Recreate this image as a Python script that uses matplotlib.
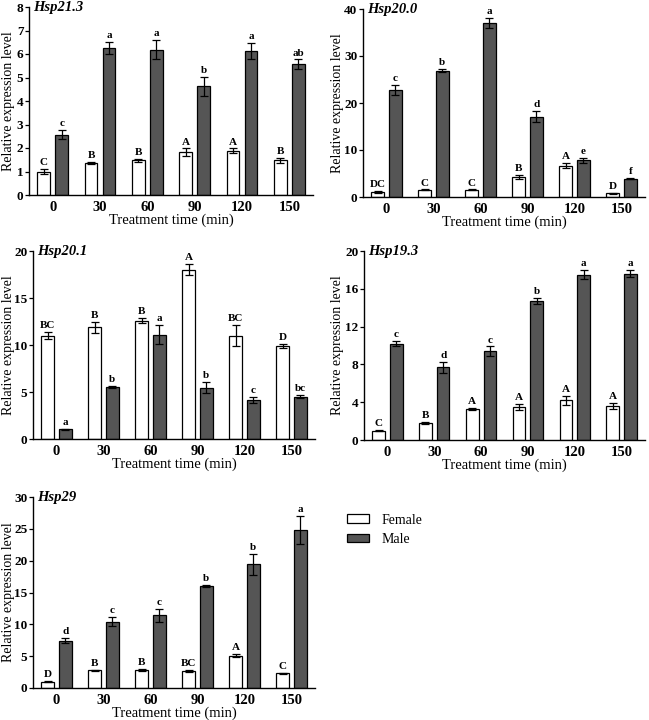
import matplotlib
matplotlib.use("Agg")
import matplotlib.pyplot as plt
from matplotlib.patches import Patch
import numpy as np

plt.rcParams['font.family'] = ['Liberation Serif', 'DejaVu Serif']

times = ["0", "30", "60", "90", "120", "150"]

# Hsp21.3
h213_f = [1.0, 1.37, 1.47, 1.83, 1.88, 1.48]
h213_fe = [0.1, 0.05, 0.05, 0.15, 0.1, 0.1]
h213_m = [2.57, 6.25, 6.18, 4.62, 6.13, 5.57]
h213_me = [0.2, 0.25, 0.4, 0.4, 0.35, 0.2]
h213_fl = ["C", "B", "B", "A", "A", "B"]
h213_ml = ["c", "a", "a", "b", "a", "ab"]

# Hsp20.0
h200_f = [1.0, 1.5, 1.5, 4.3, 6.7, 0.8]
h200_fe = [0.2, 0.1, 0.1, 0.4, 0.5, 0.1]
h200_m = [22.8, 26.9, 37.0, 17.1, 7.8, 3.9]
h200_me = [1.1, 0.4, 1.1, 1.2, 0.5, 0.15]
h200_fl = ["DC", "C", "C", "B", "A", "D"]
h200_ml = ["c", "b", "a", "d", "e", "f"]

# Hsp20.1
h201_f = [11.0, 11.9, 12.6, 18.0, 11.0, 9.9]
h201_fe = [0.4, 0.6, 0.3, 0.6, 1.1, 0.25]
h201_m = [1.05, 5.55, 11.1, 5.45, 4.15, 4.5]
h201_me = [0.05, 0.1, 1.0, 0.6, 0.3, 0.15]
h201_fl = ["BC", "B", "B", "A", "BC", "D"]
h201_ml = ["a", "b", "a", "b", "c", "bc"]

# Hsp19.3
h193_f = [1.0, 1.8, 3.3, 3.5, 4.2, 3.6]
h193_fe = [0.05, 0.1, 0.1, 0.35, 0.5, 0.3]
h193_m = [10.2, 7.7, 9.4, 14.7, 17.5, 17.6]
h193_me = [0.25, 0.6, 0.5, 0.3, 0.5, 0.4]
h193_fl = ["C", "B", "A", "A", "A", "A"]
h193_ml = ["c", "d", "c", "b", "a", "a"]

# Hsp29
h29_f = [1.0, 2.8, 2.8, 2.7, 5.1, 2.3]
h29_fe = [0.1, 0.1, 0.15, 0.15, 0.2, 0.1]
h29_m = [7.4, 10.4, 11.4, 16.0, 19.4, 24.8]
h29_me = [0.4, 0.7, 1.0, 0.2, 1.7, 2.2]
h29_fl = ["D", "B", "B", "BC", "A", "C"]
h29_ml = ["d", "c", "c", "b", "b", "a"]

W, H = 649, 720
fig = plt.figure(figsize=(W / 100, H / 100), dpi=100)

MALE_C = "#555555"


def add_ax(x0, y0, x1, y1):
    return fig.add_axes([x0 / W, 1 - y1 / H, (x1 - x0) / W, (y1 - y0) / H])


def panel(ax, name, f, fe, m, me, fl, ml, ymax, ystep, ylab_px):
    x = np.arange(len(times))
    bw = 0.27
    off = 0.19
    ax.bar(x - off, f, bw, color="white", edgecolor="black", linewidth=0.9)
    ax.bar(x + off, m, bw, color=MALE_C, edgecolor="black", linewidth=0.9)
    ax.errorbar(x - off, f, yerr=fe, fmt="none", ecolor="black", elinewidth=0.9, capsize=3, capthick=0.9)
    ax.errorbar(x + off, m, yerr=me, fmt="none", ecolor="black", elinewidth=0.9, capsize=3, capthick=0.9)
    pad = ymax * 0.01
    for xi, v, e, t in zip(x - off, f, fe, fl):
        ax.text(xi, v + e + pad, t, ha="center", va="bottom", fontsize=8, fontweight="bold")
    for xi, v, e, t in zip(x + off, m, me, ml):
        ax.text(xi, v + e + pad, t, ha="center", va="bottom", fontsize=8, fontweight="bold")
    ax.set_xlim(-0.5, 5.5)
    ax.set_ylim(0, ymax)
    ax.set_yticks(np.arange(0, ymax + 0.001, ystep))
    ax.set_xticks(x)
    ax.set_xticklabels(times)
    ax.tick_params(axis="x", length=0, labelsize=10.5, pad=4)
    ax.tick_params(axis="y", length=3, width=0.9, direction="out", labelsize=9.5, pad=1)
    for lab in ax.get_xticklabels() + ax.get_yticklabels():
        lab.set_fontweight("bold")
    ax.spines["top"].set_visible(False)
    ax.spines["right"].set_visible(False)
    ax.spines["left"].set_linewidth(1.0)
    ax.spines["bottom"].set_linewidth(1.0)
    ax.set_xlabel("Treatment time (min)", fontsize=10.5, labelpad=0)
    ax.set_ylabel("Relative expression level", fontsize=10)
    bb = ax.get_position()
    x0px = bb.x0 * W
    wpx = bb.width * W
    ax.yaxis.set_label_coords((ylab_px - x0px) / wpx, 0.5)
    ax.text(0.015, 1.0, name, transform=ax.transAxes, ha="left", va="center",
            fontsize=10.5, fontstyle="italic", fontweight="bold")


ax1 = add_ax(29, 7, 313, 195)
panel(ax1, "Hsp21.3", h213_f, h213_fe, h213_m, h213_me, h213_fl, h213_ml, 8, 1, 15)

ax2 = add_ax(363, 9, 645, 197)
panel(ax2, "Hsp20.0", h200_f, h200_fe, h200_m, h200_me, h200_fl, h200_ml, 40, 10, 344)

ax3 = add_ax(33, 251, 315, 439)
panel(ax3, "Hsp20.1", h201_f, h201_fe, h201_m, h201_me, h201_fl, h201_ml, 20, 5, 15)

ax4 = add_ax(364, 251, 645, 440)
panel(ax4, "Hsp19.3", h193_f, h193_fe, h193_m, h193_me, h193_fl, h193_ml, 20, 4, 344)

ax5 = add_ax(33, 497, 315, 688)
panel(ax5, "Hsp29", h29_f, h29_fe, h29_m, h29_me, h29_fl, h29_ml, 30, 5, 15)

handles = [Patch(facecolor="white", edgecolor="black", linewidth=0.9, label="Female"),
           Patch(facecolor=MALE_C, edgecolor="black", linewidth=0.9, label="Male")]
fig.legend(handles=handles, loc="upper left", bbox_to_anchor=(334 / W, 1 - 501 / H),
           frameon=False, prop={"size": 10},
           handlelength=1.6, handleheight=0.55, handletextpad=0.9, labelspacing=0.45)

fig.savefig("out.png", dpi=100)
